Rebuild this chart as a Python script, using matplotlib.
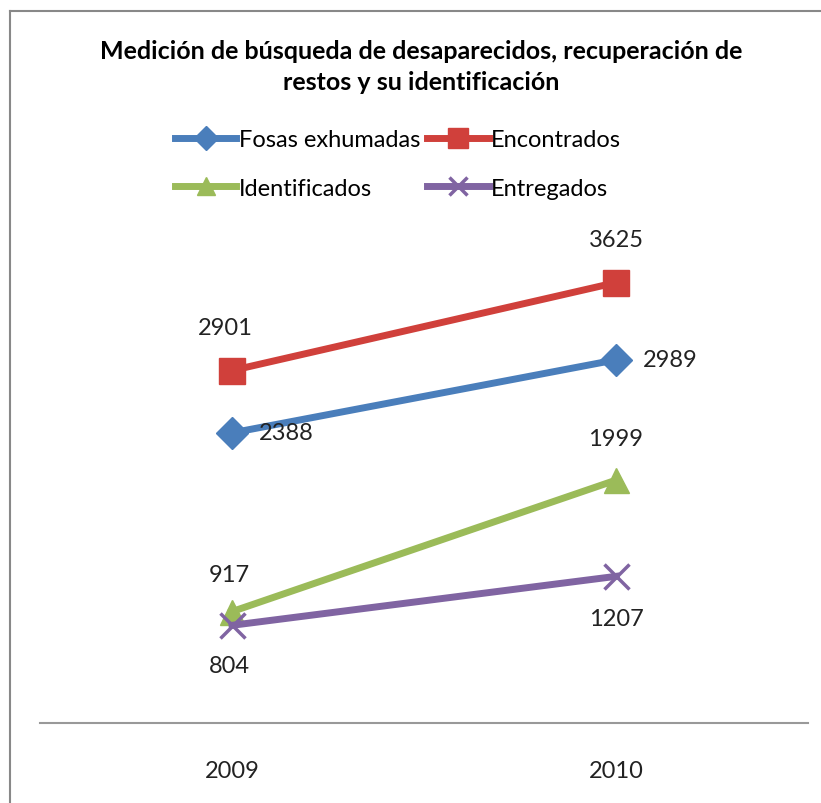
import matplotlib.pyplot as plt
from matplotlib.lines import Line2D

plt.rcParams['font.family'] = ['Lato', 'DejaVu Sans']

years = ['2009', '2010']
fosas = [2388, 2989]
encontrados = [2901, 3625]
identificados = [917, 1999]
entregados = [804, 1207]

W, H = 821, 804
fig = plt.figure(figsize=(W / 100, H / 100), dpi=100)
ax = fig.add_axes([40 / W, 1 - 724 / H, 768 / W, 486 / H])

x = [0, 1]
l1, = ax.plot(x, fosas, color='#4A7EBB', lw=5, marker='D', ms=16, label='Fosas exhumadas')
l2, = ax.plot(x, encontrados, color='#D0403B', lw=5, marker='s', ms=19, label='Encontrados')
l3, = ax.plot(x, identificados, color='#9BBB59', lw=5, marker='^', ms=18, label='Identificados')
l4, = ax.plot(x, entregados, color='#8064A2', lw=5, marker='x', ms=18, mew=2.5, label='Entregados')

fs = 17
kw = dict(fontsize=fs, color='#222222', va='center')
ax.annotate(str(encontrados[0]), (0, encontrados[0]), xytext=(-5, 31), textcoords='offset points', ha='center', **kw)
ax.annotate(str(encontrados[1]), (1, encontrados[1]), xytext=(0, 31), textcoords='offset points', ha='center', **kw)
ax.annotate(str(fosas[0]), (0, fosas[0]), xytext=(19, 0), textcoords='offset points', ha='left', **kw)
ax.annotate(str(fosas[1]), (1, fosas[1]), xytext=(19, 0), textcoords='offset points', ha='left', **kw)
ax.annotate(str(identificados[0]), (0, identificados[0]), xytext=(-2, 27), textcoords='offset points', ha='center', **kw)
ax.annotate(str(identificados[1]), (1, identificados[1]), xytext=(0, 30), textcoords='offset points', ha='center', **kw)
ax.annotate(str(entregados[0]), (0, entregados[0]), xytext=(-2, -29), textcoords='offset points', ha='center', **kw)
ax.annotate(str(entregados[1]), (1, entregados[1]), xytext=(0, -30), textcoords='offset points', ha='center', **kw)

ax.set_xlim(-0.5, 1.5)
ax.set_ylim(0, 4000)
ax.set_xticks(x)
ax.set_xticklabels(years, fontsize=fs, color='#222222')
ax.tick_params(axis='x', length=0, pad=27)
ax.set_yticks([])
for s in ['left', 'right', 'top']:
    ax.spines[s].set_visible(False)
ax.spines['bottom'].set_color('#999999')
ax.spines['bottom'].set_linewidth(1.5)

fig.text(421 / W, 1 - 67 / H, 'Medición de búsqueda de desaparecidos, recuperación de\nrestos y su identificación',
         ha='center', va='center', fontsize=18, fontweight='bold', linespacing=1.4)

# legend filled row by row like the original
leg = fig.legend([l1, l3, l2, l4], [l1.get_label(), l3.get_label(), l2.get_label(), l4.get_label()],
                 loc='center', bbox_to_anchor=(398 / W, 1 - 165 / H), ncol=2, frameon=False,
                 fontsize=fs, handlelength=2.6, handletextpad=0.1, columnspacing=0.3,
                 labelspacing=1.15, markerscale=0.75)

# outer frame (left and top edges)
fig.add_artist(Line2D([10 / W, 10 / W], [0, 1 - 12 / H], color='#888888', lw=1.5, transform=fig.transFigure))
fig.add_artist(Line2D([10 / W, 1], [1 - 12 / H, 1 - 12 / H], color='#888888', lw=1.5, transform=fig.transFigure))

fig.savefig('out.png', dpi=100)
